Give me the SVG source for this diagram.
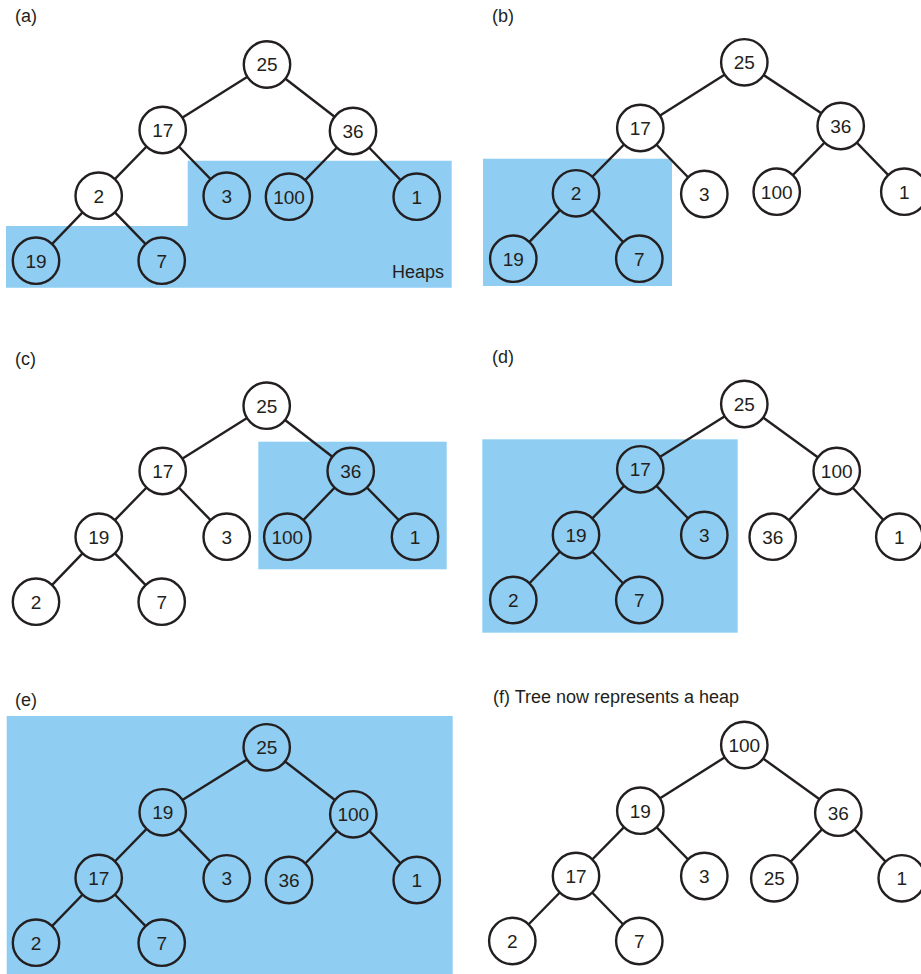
<svg xmlns="http://www.w3.org/2000/svg" width="921" height="974" viewBox="0 0 921 974">
<style>
.bg{fill:#8fcdf2}
.e line{stroke:#231f20;stroke-width:2.4}
circle{stroke:#231f20;stroke-width:2.4;r:23.2}
.w circle{fill:#fff}
.b circle{fill:#8fcdf2}
text{font-family:"Liberation Sans",Arial,sans-serif;font-size:18px;fill:#231f20}
.w text,.b text{text-anchor:middle;font-size:19px}
</style>
<rect width="921" height="974" fill="#fff"/>
<!-- backgrounds -->
<polygon class="bg" points="6,226 187.7,226 187.7,160.7 451.7,160.7 451.7,287.7 6,287.7"/>
<rect class="bg" x="483" y="158.7" width="189" height="127.3"/>
<rect class="bg" x="258.3" y="441.7" width="188.4" height="127.6"/>
<rect class="bg" x="482.3" y="439.3" width="255.4" height="193.4"/>
<rect class="bg" x="6.7" y="716" width="446" height="258"/>
<!-- labels -->
<text x="15" y="22">(a)</text>
<text x="392" y="278">Heaps</text>
<text x="492" y="22">(b)</text>
<text x="15" y="365">(c)</text>
<text x="492" y="363">(d)</text>
<text x="15" y="706">(e)</text>
<text x="493" y="703">(f) Tree now represents a heap</text>
<!-- connectors -->
<g id="connectors" class="e">
<!-- a -->
<line x1="267" y1="64.5" x2="162.7" y2="130"/><line x1="267" y1="64.5" x2="353" y2="131"/>
<line x1="162.7" y1="130" x2="98.7" y2="195.7"/><line x1="162.7" y1="130" x2="226.7" y2="195.7"/>
<line x1="353" y1="131" x2="289" y2="196.7"/><line x1="353" y1="131" x2="416.7" y2="196.7"/>
<line x1="98.7" y1="195.7" x2="36" y2="260.7"/><line x1="98.7" y1="195.7" x2="161.7" y2="260.7"/>
<!-- b -->
<line x1="744.3" y1="62.3" x2="640.3" y2="128"/><line x1="744.3" y1="62.3" x2="840.7" y2="126"/>
<line x1="640.3" y1="128" x2="576" y2="193.3"/><line x1="640.3" y1="128" x2="704.3" y2="194"/>
<line x1="840.7" y1="126" x2="776.7" y2="191.7"/><line x1="840.7" y1="126" x2="904.3" y2="191.7"/>
<line x1="576" y1="193.3" x2="513.3" y2="258.7"/><line x1="576" y1="193.3" x2="639.3" y2="258.7"/>
<!-- c -->
<line x1="266.7" y1="405.7" x2="162.7" y2="471"/><line x1="266.7" y1="405.7" x2="350.7" y2="471"/>
<line x1="162.7" y1="471" x2="98.7" y2="536.7"/><line x1="162.7" y1="471" x2="226.7" y2="536.7"/>
<line x1="350.7" y1="471" x2="287.3" y2="536.7"/><line x1="350.7" y1="471" x2="415" y2="536.7"/>
<line x1="98.7" y1="536.7" x2="36" y2="601.7"/><line x1="98.7" y1="536.7" x2="161.7" y2="601.7"/>
<!-- d -->
<line x1="744.3" y1="404" x2="640.3" y2="469.3"/><line x1="744.3" y1="404" x2="836.7" y2="471"/>
<line x1="640.3" y1="469.3" x2="576" y2="535"/><line x1="640.3" y1="469.3" x2="704.3" y2="535"/>
<line x1="836.7" y1="471" x2="772.7" y2="536.7"/><line x1="836.7" y1="471" x2="899.3" y2="536.7"/>
<line x1="576" y1="535" x2="513.3" y2="600"/><line x1="576" y1="535" x2="639.3" y2="600"/>
<!-- e -->
<line x1="266.7" y1="747.3" x2="162.7" y2="812.3"/><line x1="266.7" y1="747.3" x2="353.3" y2="814.3"/>
<line x1="162.7" y1="812.3" x2="98.7" y2="878"/><line x1="162.7" y1="812.3" x2="226.7" y2="878.3"/>
<line x1="353.3" y1="814.3" x2="289" y2="880"/><line x1="353.3" y1="814.3" x2="416.7" y2="880"/>
<line x1="98.7" y1="878" x2="36" y2="942.7"/><line x1="98.7" y1="878" x2="161.7" y2="942.7"/>
<!-- f -->
<line x1="744.3" y1="745" x2="640.3" y2="810.7"/><line x1="744.3" y1="745" x2="838.3" y2="812.7"/>
<line x1="640.3" y1="810.7" x2="576" y2="876"/><line x1="640.3" y1="810.7" x2="704.3" y2="876"/>
<line x1="838.3" y1="812.7" x2="774.3" y2="878.3"/><line x1="838.3" y1="812.7" x2="901.7" y2="878.3"/>
<line x1="576" y1="876" x2="512.3" y2="941"/><line x1="576" y1="876" x2="639.3" y2="941"/>
</g>
<!-- panel a nodes -->
<g id="a-25" class="w"><circle cx="267" cy="64.5" r="23.2"/><text x="267" y="71.3">25</text></g>
<g id="a-17" class="w"><circle cx="162.7" cy="130" r="23.2"/><text x="162.7" y="136.8">17</text></g>
<g id="a-36" class="w"><circle cx="353" cy="131" r="23.2"/><text x="353" y="137.8">36</text></g>
<g id="a-2" class="w"><circle cx="98.7" cy="195.7" r="23.2"/><text x="98.7" y="202.5">2</text></g>
<g id="a-3" class="b"><circle cx="226.7" cy="195.7" r="23.2"/><text x="226.7" y="202.5">3</text></g>
<g id="a-100" class="b"><circle cx="289" cy="196.7" r="23.2"/><text x="289" y="203.5">100</text></g>
<g id="a-1" class="b"><circle cx="416.7" cy="196.7" r="23.2"/><text x="416.7" y="203.5">1</text></g>
<g id="a-19" class="b"><circle cx="36" cy="260.7" r="23.2"/><text x="36" y="267.5">19</text></g>
<g id="a-7" class="b"><circle cx="161.7" cy="260.7" r="23.2"/><text x="161.7" y="267.5">7</text></g>
<!-- panel b nodes -->
<g id="b-25" class="w"><circle cx="744.3" cy="62.3" r="23.2"/><text x="744.3" y="69.1">25</text></g>
<g id="b-17" class="w"><circle cx="640.3" cy="128" r="23.2"/><text x="640.3" y="134.8">17</text></g>
<g id="b-36" class="w"><circle cx="840.7" cy="126" r="23.2"/><text x="840.7" y="132.8">36</text></g>
<g id="b-2" class="b"><circle cx="576" cy="193.3" r="23.2"/><text x="576" y="200.1">2</text></g>
<g id="b-3" class="w"><circle cx="704.3" cy="194" r="23.2"/><text x="704.3" y="200.8">3</text></g>
<g id="b-100" class="w"><circle cx="776.7" cy="191.7" r="23.2"/><text x="776.7" y="198.5">100</text></g>
<g id="b-1" class="w"><circle cx="904.3" cy="191.7" r="23.2"/><text x="904.3" y="198.5">1</text></g>
<g id="b-19" class="b"><circle cx="513.3" cy="258.7" r="23.2"/><text x="513.3" y="265.5">19</text></g>
<g id="b-7" class="b"><circle cx="639.3" cy="258.7" r="23.2"/><text x="639.3" y="265.5">7</text></g>
<!-- panel c nodes -->
<g id="c-25" class="w"><circle cx="266.7" cy="405.7" r="23.2"/><text x="266.7" y="412.5">25</text></g>
<g id="c-17" class="w"><circle cx="162.7" cy="471" r="23.2"/><text x="162.7" y="477.8">17</text></g>
<g id="c-36" class="b"><circle cx="350.7" cy="471" r="23.2"/><text x="350.7" y="477.8">36</text></g>
<g id="c-19" class="w"><circle cx="98.7" cy="536.7" r="23.2"/><text x="98.7" y="543.5">19</text></g>
<g id="c-3" class="w"><circle cx="226.7" cy="536.7" r="23.2"/><text x="226.7" y="543.5">3</text></g>
<g id="c-100" class="b"><circle cx="287.3" cy="536.7" r="23.2"/><text x="287.3" y="543.5">100</text></g>
<g id="c-1" class="b"><circle cx="415" cy="536.7" r="23.2"/><text x="415" y="543.5">1</text></g>
<g id="c-2" class="w"><circle cx="36" cy="601.7" r="23.2"/><text x="36" y="608.5">2</text></g>
<g id="c-7" class="w"><circle cx="161.7" cy="601.7" r="23.2"/><text x="161.7" y="608.5">7</text></g>
<!-- panel d nodes -->
<g id="d-25" class="w"><circle cx="744.3" cy="404" r="23.2"/><text x="744.3" y="410.8">25</text></g>
<g id="d-17" class="b"><circle cx="640.3" cy="469.3" r="23.2"/><text x="640.3" y="476.1">17</text></g>
<g id="d-100" class="w"><circle cx="836.7" cy="471" r="23.2"/><text x="836.7" y="477.8">100</text></g>
<g id="d-19" class="b"><circle cx="576" cy="535" r="23.2"/><text x="576" y="541.8">19</text></g>
<g id="d-3" class="b"><circle cx="704.3" cy="535" r="23.2"/><text x="704.3" y="541.8">3</text></g>
<g id="d-36" class="w"><circle cx="772.7" cy="536.7" r="23.2"/><text x="772.7" y="543.5">36</text></g>
<g id="d-1" class="w"><circle cx="899.3" cy="536.7" r="23.2"/><text x="899.3" y="543.5">1</text></g>
<g id="d-2" class="b"><circle cx="513.3" cy="600" r="23.2"/><text x="513.3" y="606.8">2</text></g>
<g id="d-7" class="b"><circle cx="639.3" cy="600" r="23.2"/><text x="639.3" y="606.8">7</text></g>
<!-- panel e nodes -->
<g id="e-25" class="b"><circle cx="266.7" cy="747.3" r="23.2"/><text x="266.7" y="754.1">25</text></g>
<g id="e-19" class="b"><circle cx="162.7" cy="812.3" r="23.2"/><text x="162.7" y="819.1">19</text></g>
<g id="e-100" class="b"><circle cx="353.3" cy="814.3" r="23.2"/><text x="353.3" y="821.1">100</text></g>
<g id="e-17" class="b"><circle cx="98.7" cy="878" r="23.2"/><text x="98.7" y="884.8">17</text></g>
<g id="e-3" class="b"><circle cx="226.7" cy="878.3" r="23.2"/><text x="226.7" y="885.1">3</text></g>
<g id="e-36" class="b"><circle cx="289" cy="880" r="23.2"/><text x="289" y="886.8">36</text></g>
<g id="e-1" class="b"><circle cx="416.7" cy="880" r="23.2"/><text x="416.7" y="886.8">1</text></g>
<g id="e-2" class="b"><circle cx="36" cy="942.7" r="23.2"/><text x="36" y="949.5">2</text></g>
<g id="e-7" class="b"><circle cx="161.7" cy="942.7" r="23.2"/><text x="161.7" y="949.5">7</text></g>
<!-- panel f nodes -->
<g id="f-100" class="w"><circle cx="744.3" cy="745" r="23.2"/><text x="744.3" y="751.8">100</text></g>
<g id="f-19" class="w"><circle cx="640.3" cy="810.7" r="23.2"/><text x="640.3" y="817.5">19</text></g>
<g id="f-36" class="w"><circle cx="838.3" cy="812.7" r="23.2"/><text x="838.3" y="819.5">36</text></g>
<g id="f-17" class="w"><circle cx="576" cy="876" r="23.2"/><text x="576" y="882.8">17</text></g>
<g id="f-3" class="w"><circle cx="704.3" cy="876" r="23.2"/><text x="704.3" y="882.8">3</text></g>
<g id="f-25" class="w"><circle cx="774.3" cy="878.3" r="23.2"/><text x="774.3" y="885.1">25</text></g>
<g id="f-1" class="w"><circle cx="901.7" cy="878.3" r="23.2"/><text x="901.7" y="885.1">1</text></g>
<g id="f-2" class="w"><circle cx="512.3" cy="941" r="23.2"/><text x="512.3" y="947.8">2</text></g>
<g id="f-7" class="w"><circle cx="639.3" cy="941" r="23.2"/><text x="639.3" y="947.8">7</text></g>
</svg>
